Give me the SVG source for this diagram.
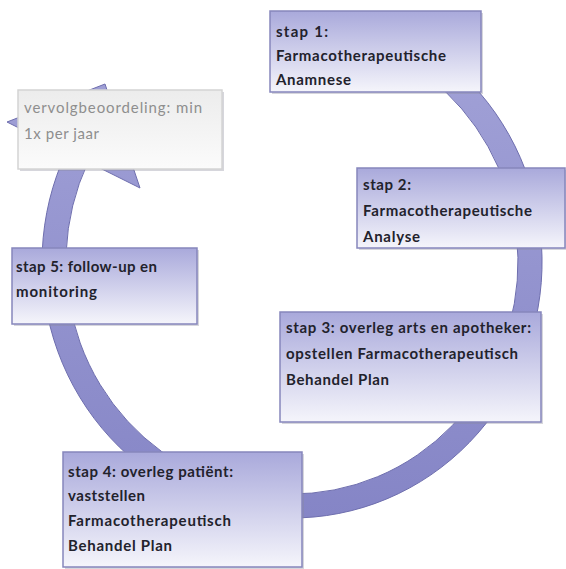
<svg xmlns="http://www.w3.org/2000/svg" width="566" height="569" viewBox="0 0 566 569">
<defs>
<linearGradient id="boxg" x1="0" y1="0" x2="0" y2="1">
<stop offset="0" stop-color="#a9a9db"/>
<stop offset="1" stop-color="#f5f5fb"/>
</linearGradient>
<linearGradient id="greyg" x1="0" y1="0" x2="0" y2="1">
<stop offset="0" stop-color="#ececec"/>
<stop offset="1" stop-color="#fbfbfb"/>
</linearGradient>
<linearGradient id="ringg" x1="0" y1="0" x2="0" y2="1">
<stop offset="0" stop-color="#a3a3d8"/>
<stop offset="1" stop-color="#8585c6"/>
</linearGradient>
</defs>
<style>
.box{fill:url(#boxg);stroke:#8686bc;stroke-width:1.5}
.shadow{fill:#8a8a9a;opacity:0.35}
.grey{fill:url(#greyg);stroke:#d4d4d4;stroke-width:1.5}
.t{font-family:Lato,"Open Sans","Liberation Sans",sans-serif;font-size:15px;font-weight:700;fill:#22222c}
.tg{font-family:Lato,"Open Sans","Liberation Sans",sans-serif;font-size:15px;font-weight:400;fill:#8e8e8e}
.ring{fill:url(#ringg);stroke:#6e6eae;stroke-width:1}
</style>
<rect width="566" height="569" fill="#ffffff"/>
<g id="connectors">
<path class="ring" d="M377.5,21.4 A250,256 0 1 1 66.4,151.8 L7,122 L105,84 L140,188 L88,162.1 A226,232 0 1 0 369.3,44 Z"/>
</g>
<g id="step1">
<rect class="shadow" x="272" y="13" width="211" height="81"/>
<rect class="box" x="270" y="11" width="211" height="81"/>
<text class="t" x="276" y="37" textLength="52">stap 1:</text>
<text class="t" x="276" y="61" textLength="170">Farmacotherapeutische</text>
<text class="t" x="276" y="85" textLength="75">Anamnese</text>
</g>
<g id="step2">
<rect class="shadow" x="359" y="170" width="208" height="80"/>
<rect class="box" x="357" y="168" width="208" height="80"/>
<text class="t" x="363" y="190" textLength="48">stap 2:</text>
<text class="t" x="363" y="216" textLength="169">Farmacotherapeutische</text>
<text class="t" x="363" y="242" textLength="57">Analyse</text>
</g>
<g id="step3">
<rect class="shadow" x="282" y="314" width="261" height="110"/>
<rect class="box" x="280" y="312" width="261" height="110"/>
<text class="t" x="286" y="333" textLength="245">stap 3: overleg arts en apotheker:</text>
<text class="t" x="286" y="359" textLength="232">opstellen Farmacotherapeutisch</text>
<text class="t" x="286" y="385" textLength="103">Behandel Plan</text>
</g>
<g id="step4">
<rect class="shadow" x="65" y="454" width="239" height="115"/>
<rect class="box" x="63" y="452" width="239" height="115"/>
<text class="t" x="68" y="477" textLength="165">stap 4: overleg patiënt:</text>
<text class="t" x="68" y="501" textLength="77">vaststellen</text>
<text class="t" x="68" y="526" textLength="163">Farmacotherapeutisch</text>
<text class="t" x="68" y="551" textLength="104">Behandel Plan</text>
</g>
<g id="step5">
<rect class="shadow" x="14" y="250" width="185" height="76"/>
<rect class="box" x="12" y="248" width="185" height="76"/>
<text class="t" x="16" y="272" textLength="141">stap 5: follow-up en</text>
<text class="t" x="16" y="297" textLength="81">monitoring</text>
</g>
<g id="vervolg">
<rect class="shadow" x="20" y="92" width="204" height="79"/>
<rect class="grey" x="18" y="90" width="204" height="79"/>
<text class="tg" x="24" y="113" textLength="178">vervolgbeoordeling: min</text>
<text class="tg" x="24" y="139" textLength="75">1x per jaar</text>
</g>
</svg>
